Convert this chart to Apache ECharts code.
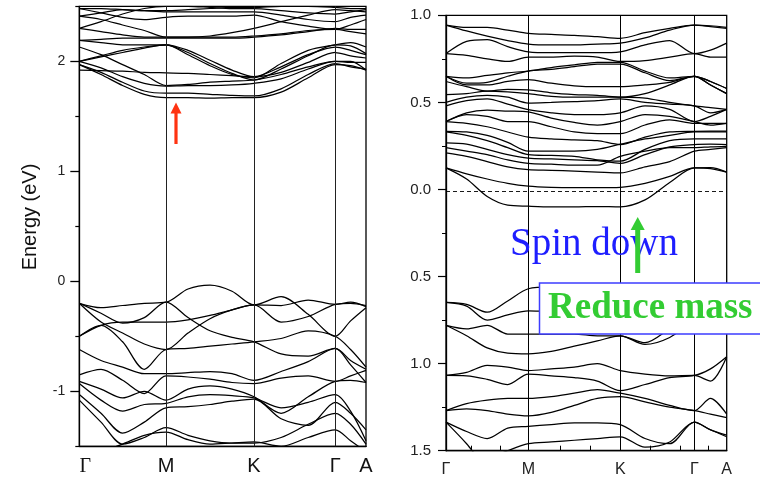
<!DOCTYPE html>
<html><head><meta charset="utf-8">
<script src="https://cdn.jsdelivr.net/npm/echarts@6/dist/echarts.min.js"></script>
<style>html,body{margin:0;padding:0;background:#fff}#c{width:760px;height:480px}</style>
</head><body><div id="c"></div>
<script>
// ---------- axes / k-path ----------
const symLabels = ['Γ','M','K','Γ','A'];
const leftSym  = [0, 0.867, 1.747, 2.56, 2.867];
const rightSym = [0, 0.823, 1.743, 2.483, 2.807];
const leftK  = [0,0.217,0.433,0.650,0.867,1.087,1.307,1.527,1.747,2.018,2.289,2.56,2.713,2.867];
const rightK = [0,0.206,0.412,0.617,0.823,1.053,1.283,1.513,1.743,1.990,2.237,2.483,2.645,2.807];
const rightMinorTicks = [0.257,0.54,0.823,1.14,1.44,1.743,2.04,2.34,2.623];
const leftYTicks = [-1,0,1,2];
const leftYMinor = [-1.5,-0.5,0.5,1.5,2.5];
const fermiLevel = -0.013;

// ---------- left panel: conduction bands ----------
const c1  = [1.97,1.88,1.78,1.70,1.67,1.67,1.665,1.67,1.67,1.72,1.85,1.97,1.96,1.92];
const c2  = [1.97,1.90,1.81,1.73,1.71,1.71,1.70,1.69,1.685,1.75,1.88,1.98,1.95,1.93];
const c3  = [2.00,1.94,1.86,1.80,1.775,1.78,1.78,1.785,1.80,1.84,1.93,2.00,1.99,1.99];
const c4  = [1.92,1.915,1.91,1.90,1.895,1.89,1.88,1.87,1.86,1.95,2.06,2.13,2.10,2.06];
const c5  = [2.13,2.06,1.97,1.88,1.78,1.79,1.81,1.82,1.83,1.88,1.95,2.00,2.00,1.92];
const c6  = [2.00,2.05,2.10,2.13,2.15,2.08,1.98,1.89,1.83,1.93,2.05,2.15,2.14,2.07];
const c7  = [2.00,2.04,2.08,2.12,2.15,2.06,1.96,1.88,1.85,1.98,2.10,2.15,2.17,2.13];
const c8  = [2.19,2.17,2.15,2.15,2.15,2.10,2.01,1.92,1.86,1.90,1.99,2.08,2.05,2.03];
const c9  = [2.30,2.27,2.24,2.22,2.22,2.22,2.22,2.22,2.23,2.25,2.28,2.29,2.27,2.25];
const c10 = [2.19,2.20,2.21,2.21,2.21,2.21,2.21,2.21,2.22,2.24,2.27,2.30,2.29,2.29];
const c11 = [2.48,2.44,2.40,2.38,2.40,2.41,2.41,2.41,2.42,2.36,2.32,2.29,2.33,2.38];
const c12 = [2.41,2.44,2.47,2.46,2.45,2.45,2.45,2.45,2.45,2.42,2.38,2.36,2.40,2.42];
const c13 = [2.30,2.36,2.43,2.48,2.50,2.50,2.49,2.48,2.48,2.46,2.44,2.43,2.45,2.47];
const c14 = [2.48,2.48,2.47,2.46,2.46,2.47,2.48,2.49,2.49,2.50,2.50,2.49,2.48,2.48];
const c15 = [2.41,2.38,2.33,2.28,2.22,2.22,2.23,2.26,2.30,2.36,2.42,2.47,2.46,2.45];

// ---------- left panel: valence bands ----------
const v1  = [-0.20,-0.24,-0.22,-0.20,-0.19,-0.07,-0.035,-0.09,-0.215,-0.14,-0.30,-0.50,-0.36,-0.24];
const v2  = [-0.20,-0.29,-0.38,-0.33,-0.19,-0.33,-0.45,-0.51,-0.55,-0.66,-0.68,-0.61,-0.72,-0.80];
const v3  = [-0.20,-0.37,-0.47,-0.57,-0.62,-0.47,-0.34,-0.26,-0.215,-0.37,-0.32,-0.21,-0.20,-0.22];
const v4  = [-0.50,-0.40,-0.37,-0.37,-0.37,-0.35,-0.31,-0.26,-0.215,-0.22,-0.17,-0.21,-0.19,-0.23];
const v5  = [-0.50,-0.40,-0.55,-0.80,-0.62,-0.61,-0.59,-0.57,-0.55,-0.52,-0.45,-0.50,-0.62,-0.78];
const v6  = [-0.62,-0.72,-0.78,-0.84,-0.84,-0.83,-0.82,-0.84,-0.90,-0.82,-0.73,-0.61,-0.76,-0.92];
const v7  = [-0.85,-0.80,-0.90,-1.02,-0.86,-0.87,-0.89,-0.92,-0.93,-0.88,-0.86,-0.91,-0.86,-0.81];
const v8  = [-0.91,-0.98,-1.06,-1.00,-1.08,-0.98,-0.95,-0.98,-1.05,-1.20,-1.05,-0.91,-0.90,-0.92];
const v9  = [-0.93,-1.08,-1.18,-1.12,-1.11,-1.05,-1.03,-1.04,-1.06,-1.15,-1.10,-1.03,-1.18,-1.45];
const v10 = [-1.03,-1.20,-1.38,-1.28,-1.15,-1.14,-1.12,-1.09,-1.07,-1.25,-1.31,-1.10,-1.20,-1.35];
const v11 = [-1.08,-1.28,-1.48,-1.42,-1.33,-1.40,-1.45,-1.47,-1.47,-1.42,-1.30,-1.20,-1.30,-1.48];
const v12 = [-1.60,-1.55,-1.48,-1.40,-1.37,-1.44,-1.48,-1.47,-1.46,-1.50,-1.42,-1.35,-1.45,-1.55];

// ---------- right panel (spin down): upper bands ----------
const r1  = [0.944,0.93,0.93,0.915,0.896,0.89,0.885,0.877,0.868,0.90,0.925,0.944,0.935,0.925];
const r2  = [0.944,0.91,0.88,0.855,0.835,0.83,0.83,0.835,0.84,0.87,0.915,0.944,0.94,0.93];
const r3  = [0.78,0.85,0.86,0.82,0.79,0.785,0.785,0.785,0.79,0.83,0.855,0.78,0.80,0.84];
const r4  = [0.78,0.77,0.75,0.735,0.76,0.76,0.765,0.76,0.735,0.74,0.76,0.78,0.76,0.76];
const r5  = [0.65,0.64,0.655,0.67,0.68,0.70,0.715,0.73,0.73,0.68,0.64,0.65,0.62,0.58];
const r6  = [0.65,0.61,0.615,0.65,0.68,0.69,0.705,0.72,0.72,0.67,0.625,0.65,0.60,0.55];
const r7  = [0.65,0.60,0.60,0.62,0.63,0.61,0.595,0.59,0.59,0.60,0.615,0.65,0.62,0.58];
const r8  = [0.62,0.59,0.565,0.575,0.572,0.555,0.545,0.54,0.53,0.525,0.50,0.48,0.47,0.46];
const r9  = [0.544,0.55,0.565,0.56,0.55,0.535,0.53,0.53,0.53,0.55,0.60,0.65,0.60,0.55];
const r10 = [0.50,0.53,0.54,0.53,0.496,0.50,0.505,0.51,0.52,0.50,0.49,0.48,0.44,0.46];
const r11 = [0.48,0.51,0.52,0.49,0.458,0.44,0.43,0.43,0.44,0.48,0.46,0.39,0.42,0.46];
const r12 = [0.39,0.44,0.455,0.45,0.445,0.41,0.385,0.37,0.39,0.43,0.42,0.39,0.37,0.38];
const r13 = [0.39,0.43,0.42,0.39,0.39,0.36,0.33,0.32,0.32,0.37,0.40,0.38,0.38,0.38];
const r14 = [0.39,0.38,0.36,0.33,0.30,0.29,0.285,0.28,0.258,0.30,0.33,0.334,0.335,0.335];
const r15 = [0.334,0.33,0.31,0.27,0.22,0.22,0.22,0.23,0.26,0.29,0.31,0.33,0.33,0.33];
const r16 = [0.33,0.31,0.28,0.24,0.20,0.195,0.19,0.17,0.162,0.23,0.28,0.29,0.29,0.29];
const r17 = [0.267,0.26,0.23,0.20,0.18,0.175,0.17,0.165,0.15,0.20,0.245,0.258,0.26,0.258];
const r18 = [0.24,0.22,0.20,0.17,0.15,0.145,0.14,0.14,0.19,0.22,0.24,0.24,0.245,0.248];
const r19 = [0.21,0.19,0.16,0.13,0.114,0.11,0.105,0.10,0.095,0.13,0.16,0.22,0.23,0.24];
const b1  = [0.124,0.06,-0.04,-0.09,-0.096,-0.10,-0.10,-0.098,-0.10,-0.06,0.04,0.124,0.125,0.10];
const b2  = [0.124,0.09,0.06,0.035,0.019,0.012,0.010,0.010,0.012,0.035,0.075,0.124,0.12,0.10];

// ---------- right panel: lower bands ----------
const w1  = [-0.649,-0.66,-0.705,-0.64,-0.57,-0.56,-0.58,-0.62,-0.65,-0.62,-0.58,-0.60,-0.62,-0.64];
const w2  = [-0.649,-0.67,-0.75,-0.72,-0.697,-0.70,-0.70,-0.70,-0.70,-0.68,-0.66,-0.65,-0.66,-0.68];
const w3  = [-0.78,-0.80,-0.78,-0.83,-0.83,-0.83,-0.83,-0.84,-0.84,-0.89,-0.85,-0.75,-0.72,-0.70];
const w4  = [-0.78,-0.84,-0.91,-0.94,-0.944,-0.93,-0.90,-0.87,-0.84,-0.88,-0.80,-0.72,-0.70,-0.69];
const w5  = [-1.068,-1.05,-1.01,-1.02,-1.04,-1.03,-1.02,-1.00,-1.04,-1.06,-1.07,-1.068,-1.10,-0.96];
const w6  = [-1.068,-1.07,-1.09,-1.12,-1.06,-1.07,-1.08,-1.10,-1.155,-1.12,-1.08,-1.068,-1.03,-0.96];
const w7  = [-1.27,-1.23,-1.21,-1.20,-1.20,-1.19,-1.17,-1.15,-1.17,-1.20,-1.24,-1.27,-1.20,-1.29];
const w8  = [-1.27,-1.26,-1.27,-1.29,-1.30,-1.28,-1.24,-1.20,-1.19,-1.22,-1.25,-1.27,-1.29,-1.31];
const w9  = [-1.336,-1.39,-1.43,-1.37,-1.36,-1.35,-1.34,-1.34,-1.35,-1.43,-1.46,-1.336,-1.38,-1.41];
const w10 = [-1.336,-1.46,-1.60,-1.65,-1.65,-1.65,-1.65,-1.65,-1.65,-1.65,-1.65,-1.60,-1.60,-1.60];
const w11 = [-1.62,-1.58,-1.55,-1.50,-1.46,-1.45,-1.44,-1.43,-1.42,-1.48,-1.45,-1.336,-1.38,-1.42];

const leftBands  = [c1,c2,c3,c4,c5,c6,c7,c8,c9,c10,c11,c12,c13,c14,c15,v1,v2,v3,v4,v5,v6,v7,v8,v9,v10,v11,v12];
const rightBands = [r1,r2,r3,r4,r5,r6,r7,r8,r9,r10,r11,r12,r13,r14,r15,r16,r17,r18,r19,b1,b2,w1,w2,w3,w4,w5,w6,w7,w8,w9,w10,w11];

// ---------- build ----------
function mk(k, e, xi, yi) {
  return { type:'line', xAxisIndex:xi, yAxisIndex:yi, data:k.map((x,i)=>[x,e[i]]),
    showSymbol:false, symbol:'none', smooth:0.3, clip:true, silent:true, z:3,
    lineStyle:{color:'#000', width:1.25} };
}
const series = [];
leftBands.forEach(b => series.push(mk(leftK, b, 0, 0)));
rightBands.forEach(b => series.push(mk(rightK, b, 1, 2)));

series[0].markLine = { silent:true, symbol:['none','none'], label:{show:false}, animation:false,
  lineStyle:{color:'#222', width:1, type:'solid'}, data: leftSym.slice(1,4).map(v => ({xAxis:v})) };
series[leftBands.length].markLine = { silent:true, symbol:['none','none'], label:{show:false}, animation:false,
  lineStyle:{color:'#000', width:1, type:'solid'},
  data: rightSym.slice(1,4).map(v => ({xAxis:v})).concat([{yAxis:fermiLevel, lineStyle:{type:[4,3], width:0.9, color:'#000'}}]) };

function symFmt(arr){
  return function(v){
    for (let i=0;i<arr.length;i++) if (Math.abs(v-arr[i])<1e-6) return i===0 && arr===leftSym ? '{f|'+symLabels[i]+'}' : symLabels[i];
    return '';
  };
}
const axLine = {show:true, onZero:false, lineStyle:{color:'#000', width:1.3}};
const noLine = {show:false, onZero:false};
const chart = echarts.init(document.getElementById('c'), null, {renderer:'canvas'});
chart.setOption({
  animation:false,
  backgroundColor:'#fff',
  grid:[
    {left:79.3, top:6.3, width:286.7, height:440, show:true, borderColor:'#000', borderWidth:1.3, backgroundColor:'transparent'},
    {left:446, top:15.3, width:280.7, height:435.4, show:true, borderColor:'#000', borderWidth:1.3, backgroundColor:'transparent'}
  ],
  xAxis:[
    {gridIndex:0, type:'value', position:'bottom', min:0, max:leftSym[4], axisLine:axLine, splitLine:{show:false}, axisTick:{show:false},
     axisLabel:{customValues:leftSym, formatter:symFmt(leftSym), fontSize:20, color:'#111', margin:10, fontFamily:'Liberation Sans',
       rich:{f:{fontSize:20, color:'#111', fontFamily:'Liberation Serif', padding:[0,0,0,12]}}}},
    {gridIndex:1, type:'value', position:'bottom', min:0, max:rightSym[4], axisLine:axLine, splitLine:{show:false}, axisTick:{show:false},
     axisLabel:{customValues:rightSym, formatter:symFmt(rightSym), fontSize:16, color:'#222', margin:11, fontFamily:'Liberation Sans'}},
    {gridIndex:1, type:'value', position:'bottom', min:0, max:rightSym[4], axisLine:noLine, splitLine:{show:false},
     axisLabel:{show:false}, axisTick:{show:true, inside:true, length:5, customValues:rightMinorTicks, lineStyle:{color:'#000', width:1}}}
  ],
  yAxis:[
    {gridIndex:0, type:'value', position:'left', min:-1.5, max:2.5, axisLine:axLine, splitLine:{show:false},
     axisTick:{show:true, length:9, customValues:leftYTicks, lineStyle:{color:'#000', width:1.3}},
     axisLabel:{customValues:leftYTicks, fontSize:14, color:'#222', margin:14, fontFamily:'Liberation Sans'}},
    {gridIndex:0, type:'value', position:'left', min:-1.5, max:2.5, axisLine:noLine, splitLine:{show:false},
     axisTick:{show:true, length:4, customValues:leftYMinor, lineStyle:{color:'#000', width:1.2}}, axisLabel:{show:false}},
    {gridIndex:1, type:'value', position:'left', min:-1.5, max:1.0, interval:0.5, axisLine:axLine, splitLine:{show:false},
     axisTick:{show:true, length:8, lineStyle:{color:'#000', width:1.2}},
     minorTick:{show:true, splitNumber:2, length:4, lineStyle:{color:'#000', width:1}},
     axisLabel:{formatter:v=>Math.abs(v).toFixed(1), fontSize:15, color:'#222', margin:15, fontFamily:'Liberation Sans'}}
  ],
  series: series,
  graphic:[
    {type:'text', z:100, x:30, y:217, rotation:Math.PI/2,
     style:{text:'Energy (eV)', fontSize:20, fontFamily:'Liberation Sans', fill:'#111', align:'center', verticalAlign:'middle'}},
    {type:'rect', z:100, shape:{x:174.4, y:112.5, width:3.2, height:31.5}, style:{fill:'#ff3311'}},
    {type:'polygon', z:100, shape:{points:[[170.5,113.5],[181.5,113.5],[176,102.5]]}, style:{fill:'#ff3311'}},
    {type:'text', z:100, x:510, y:245, style:{text:'Spin down', fontSize:39, fontFamily:'Liberation Serif', fill:'#1e1eff', align:'left', verticalAlign:'middle'}},
    {type:'rect', z:101, shape:{x:635.2, y:228, width:5, height:45}, style:{fill:'#33cc33'}},
    {type:'polygon', z:101, shape:{points:[[630.7,230],[644.7,230],[637.7,217]]}, style:{fill:'#33cc33'}},
    {type:'rect', z:102, shape:{x:539.5, y:283, width:230, height:51}, style:{fill:'#fff', stroke:'#3d3dff', lineWidth:1.5}},
    {type:'text', z:103, x:548, y:308, style:{text:'Reduce mass', fontSize:37, fontWeight:'bold', fontFamily:'Liberation Serif', fill:'#33cc33', align:'left', verticalAlign:'middle'}}
  ]
});
</script></body></html>
